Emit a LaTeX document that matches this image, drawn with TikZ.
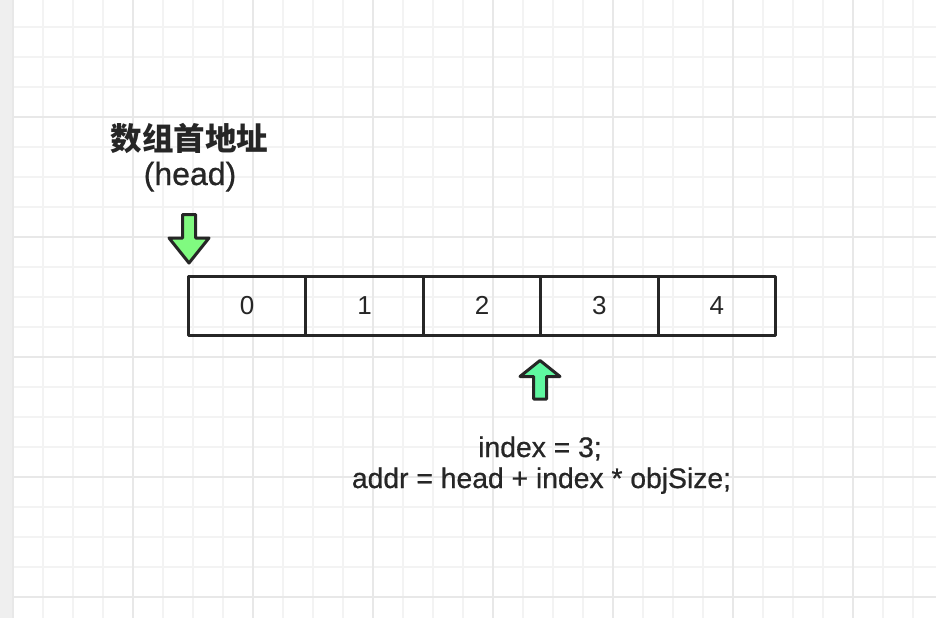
\documentclass[tikz,border=0pt]{standalone}
\usepackage{fontspec}
\setmainfont{Liberation Sans}
\newfontfamily\medfont{Liberation Sans}[FakeBold=0.7]
\newfontfamily\cjk{Noto Sans CJK SC}
\definecolor{ink}{HTML}{262626}
\definecolor{gridminor}{HTML}{F3F3F3}
\definecolor{gridmajor}{HTML}{E8E8E8}
\definecolor{strip}{HTML}{EFEFEF}
\definecolor{greenA}{HTML}{80FA80}
\definecolor{greenB}{HTML}{5FF7A0}
\tikzset{
  cell/.style={draw=ink, line width=3pt, line join=round, minimum width=117.4pt, minimum height=59pt, inner sep=0pt, outer sep=0pt, font=\fontsize{26}{30}\selectfont, text=ink},
  blockarrow/.style={draw=ink, line width=3pt, line join=round},
  label/.style={text=ink, inner sep=0pt, anchor=base},
}
\begin{document}
\begin{tikzpicture}[x=1pt,y=-1pt]
\useasboundingbox (0,0) rectangle (936,618);
\fill[white] (0,0) rectangle (936,618);
\fill[strip] (0,0) rectangle (13,618);
% grid
\foreach \x in {43,73,...,913} \draw[gridminor, line width=1.5pt] (\x,0) -- (\x,618);
\foreach \y in {27,57,...,597} \draw[gridminor, line width=1.5pt] (13,\y) -- (936,\y);
\foreach \x in {13,133,...,853} \draw[gridmajor, line width=2pt] (\x,0) -- (\x,618);
\foreach \y in {117,237,...,597} \draw[gridmajor, line width=2pt] (13,\y) -- (936,\y);
% array cells
\node[cell] (c0) at (247.2,305.5) {0};
\node[cell] (c1) at (364.6,305.5) {1};
\node[cell] (c2) at (482.0,305.5) {2};
\node[cell] (c3) at (599.4,305.5) {3};
\node[cell] (c4) at (716.8,305.5) {4};
% arrows
\draw[blockarrow, fill=greenA] (182.5,214.5) -- (195.5,214.5) -- (195.5,238) -- (209,238) -- (189,263) -- (169,238) -- (182.5,238) -- cycle;
\draw[blockarrow, fill=greenB] (533.5,399) -- (546.5,399) -- (546.5,376.5) -- (560,376.5) -- (540,360.5) -- (520,376.5) -- (533.5,376.5) -- cycle;
% texts
\node[label, font=\cjk\bfseries\fontsize{31.5}{36}\selectfont] (title) at (189.5,150) {数组首地址};
\node[label, font=\medfont\fontsize{32}{36}\selectfont] (head) at (190,185) {(head)};
\node[label, font=\medfont\fontsize{28.3}{32}\selectfont] (idx) at (540,457) {index = 3;};
\node[label, font=\medfont\fontsize{28.3}{32}\selectfont] (addr) at (541.5,488) {addr = head + index * objSize;};
\end{tikzpicture}
\end{document}
